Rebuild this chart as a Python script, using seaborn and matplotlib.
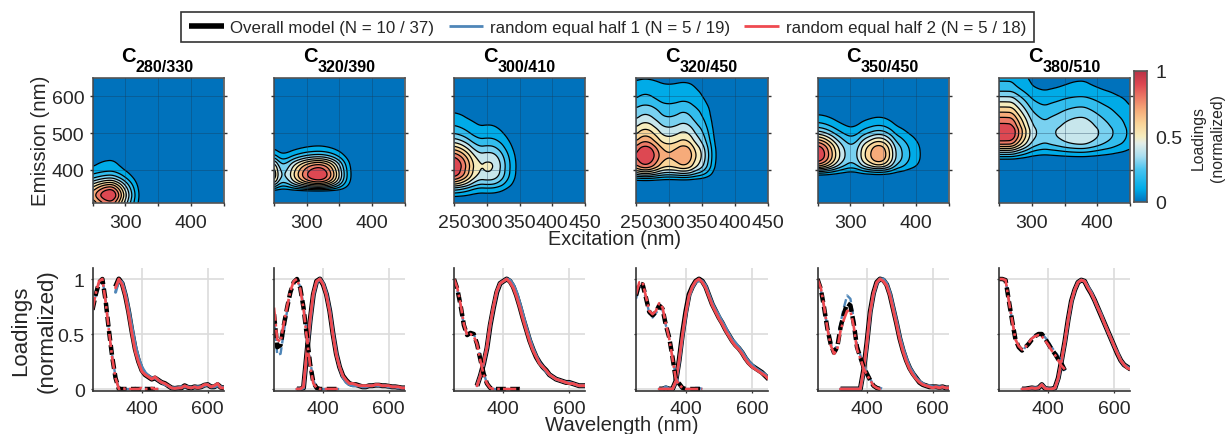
import numpy as np
import pandas as pd
import matplotlib
matplotlib.use("Agg")
import matplotlib.pyplot as plt
from matplotlib.colors import LinearSegmentedColormap
from matplotlib.lines import Line2D
import seaborn as sns

sns.set_theme(style="white")
plt.rcParams['font.family'] = ['Liberation Sans', 'DejaVu Sans']

W, H = 1228, 435

titles = ["280/330", "320/390", "300/410", "320/450", "350/450", "380/510"]
ex_wl = list(range(250, 451, 10))
em_wl = list(range(320, 651, 10))
em_at_310 = [.84, 0, 0, 0, 0, 0]

# ---- excitation loadings (overall / half 1 / half 2) ----
ex1_all = [.72,.86,.97,1.0,.80,.53,.29,.10,0,0,0,0,0,0,0,0,0,0,0,0,0]
ex1_h1  = [.73,.85,.96,1.0,.81,.54,.30,.11,.01,0,0,0,0,.01,0,0,.01,0,0,0,0]
ex1_h2  = [.72,.87,.98,1.0,.79,.53,.28,.10,0,.01,0,0,0,0,0,.01,0,0,.01,0,0]
ex2_all = [.68,.38,.40,.58,.74,.88,.97,1.0,.92,.74,.49,.23,.06,.01,0,0,0,0,0,0,0]
ex2_h1  = [.62,.31,.32,.52,.71,.87,.97,1.0,.93,.76,.52,.26,.08,.01,0,0,0,0,0,0,0]
ex2_h2  = [.74,.45,.43,.60,.75,.89,.98,1.0,.91,.73,.47,.21,.05,.01,0,0,0,0,0,0,0]
ex3_all = [1.0,.91,.76,.58,.49,.51,.50,.41,.27,.14,.05,.01,0,0,0,0,0,0,0,0,0]
ex3_h1  = [1.0,.90,.75,.58,.49,.51,.50,.43,.29,.15,.05,.01,0,0,0,0,0,0,0,0,.01]
ex3_h2  = [1.0,.92,.77,.59,.49,.50,.48,.41,.26,.13,.05,.01,0,0,0,0,0,0,0,0,0]
ex4_all = [.85,.96,.95,.83,.70,.67,.70,.76,.73,.58,.47,.29,.09,.05,.01,0,0,0,0,0,0]
ex4_h1  = [.82,.93,.93,.82,.69,.65,.69,.73,.72,.58,.47,.29,.11,.05,.01,0,0,0,.01,.01,0]
ex4_h2  = [.86,.97,.97,.84,.71,.68,.71,.78,.74,.59,.46,.28,.09,.04,.01,0,0,0,0,0,0]
ex5_all = [1.0,.91,.74,.55,.41,.33,.38,.56,.68,.78,.76,.60,.38,.29,.20,.14,.08,.03,.01,0,0]
ex5_h1  = [1.0,.90,.74,.56,.42,.34,.40,.60,.74,.85,.82,.64,.41,.31,.21,.15,.09,.04,.01,.01,0]
ex5_h2  = [1.0,.92,.75,.55,.40,.32,.36,.53,.63,.71,.71,.57,.36,.28,.19,.13,.08,.03,.01,0,0]
ex6_all = [1.0,1.0,.99,.80,.62,.45,.38,.35,.38,.41,.45,.48,.50,.50,.46,.41,.36,.32,.27,.23,.17]
ex6_h1  = [1.0,1.0,.99,.81,.62,.46,.38,.34,.38,.41,.46,.49,.50,.50,.47,.43,.38,.34,.30,.25,.16]
ex6_h2  = [1.0,1.0,.99,.80,.62,.45,.39,.36,.38,.42,.46,.48,.49,.48,.44,.40,.35,.31,.26,.21,.18]

# ---- emission loadings (overall / half 1 / half 2) ----
em1_all = [.93,1.0,.96,.85,.70,.52,.36,.25,.17,.13,.11,.09,.10,.08,.06,.05,.03,.01,.005,.01,.01,.03,.015,.01,.02,.015,.02,.035,.04,.02,.02,.04,.015,.01]
em1_h1  = [.88,.99,.97,.87,.73,.56,.40,.28,.20,.15,.12,.10,.10,.08,.06,.04,.03,.01,.01,.01,.02,.02,.02,.01,.02,.02,.02,.03,.04,.02,.02,.03,.02,.01]
em1_h2  = [.92,1.0,.95,.84,.68,.50,.34,.24,.16,.13,.11,.09,.11,.08,.06,.05,.03,.01,.005,.01,.01,.03,.015,.01,.02,.01,.02,.04,.04,.02,.03,.05,.01,.01]
em2_all = [0,0,.01,.32,.62,.86,.98,1.0,.95,.86,.71,.50,.32,.20,.12,.08,.05,.04,.04,.03,.02,.02,.03,.03,.035,.035,.03,.03,.025,.02,.02,.015,.01,.01]
em2_h1  = [0,0,.01,.30,.60,.85,.97,1.0,.96,.87,.72,.51,.33,.20,.11,.06,.04,.03,.03,.03,.02,.02,.03,.03,.035,.03,.03,.03,.02,.02,.02,.01,.01,.01]
em2_h2  = [0,0,.02,.33,.63,.87,.98,1.0,.95,.85,.70,.49,.31,.20,.12,.08,.05,.05,.04,.03,.03,.03,.03,.03,.04,.04,.03,.03,.03,.02,.02,.02,.01,.01]
em3_all = [.03,.12,.23,.37,.58,.74,.88,.96,.98,1.0,.98,.93,.85,.75,.64,.54,.44,.36,.29,.24,.20,.17,.13,.11,.09,.08,.07,.06,.06,.05,.04,.03,.03,.03]
em3_h1  = [.03,.12,.23,.37,.58,.74,.88,.96,.98,1.0,.99,.95,.88,.78,.67,.56,.46,.37,.30,.24,.20,.16,.13,.11,.09,.08,.07,.06,.06,.05,.04,.03,.03,.03]
em3_h2  = [.03,.12,.24,.38,.59,.75,.89,.96,.98,1.0,.97,.92,.84,.74,.63,.53,.43,.35,.29,.23,.20,.17,.13,.11,.09,.08,.07,.06,.05,.05,.04,.03,.03,.03]
em4_all = [0,0,.01,0,0,.07,.26,.50,.70,.86,.93,.98,1.0,.98,.93,.85,.77,.71,.65,.60,.54,.49,.44,.40,.37,.33,.28,.24,.21,.19,.17,.15,.12,.09]
em4_h1  = [0,0,.02,0,0,.06,.24,.47,.67,.84,.92,.97,.99,.98,.94,.86,.78,.72,.67,.61,.56,.50,.45,.42,.38,.34,.29,.25,.22,.19,.17,.15,.13,.09]
em4_h2  = [0,0,0,0,0,.07,.26,.49,.69,.85,.93,.98,1.0,.97,.92,.84,.76,.70,.64,.59,.53,.48,.43,.39,.36,.32,.27,.23,.20,.18,.16,.14,.12,.09]
em5_all = [0,0,0,0,0,0,0,.17,.42,.70,.87,.97,1.0,.99,.95,.86,.73,.60,.46,.35,.26,.19,.14,.10,.06,.04,.03,.02,.02,.02,.015,.02,.01,.01]
em5_h1  = [0,0,0,0,0,0,0,.15,.40,.68,.86,.96,1.0,1.0,.96,.88,.75,.62,.48,.37,.28,.20,.15,.10,.07,.05,.03,.03,.02,.02,.02,.02,.01,.01]
em5_h2  = [0,0,0,0,0,0,0,.17,.42,.70,.87,.97,1.0,.98,.94,.85,.72,.59,.45,.34,.25,.18,.13,.09,.06,.04,.03,.02,.01,.02,.01,.02,.01,.01]
em6_all = [0,0,.005,.01,.005,.01,.04,.005,0,0,.01,.10,.26,.43,.63,.80,.90,.97,.99,.98,.92,.87,.81,.74,.67,.60,.53,.46,.39,.32,.26,.22,.20,.18]
em6_h1  = [0,0,.005,.01,.01,.01,.04,.01,0,0,.01,.09,.25,.42,.62,.79,.90,.97,.99,.98,.93,.88,.81,.74,.68,.60,.53,.46,.39,.33,.26,.22,.20,.18]
em6_h2  = [0,0,.005,.01,.005,.01,.04,.005,0,0,.01,.10,.26,.43,.63,.80,.90,.97,.99,.98,.92,.87,.81,.74,.67,.60,.53,.46,.39,.32,.26,.22,.19,.18]

ex_sets = [(ex1_all, ex1_h1, ex1_h2), (ex2_all, ex2_h1, ex2_h2), (ex3_all, ex3_h1, ex3_h2),
           (ex4_all, ex4_h1, ex4_h2), (ex5_all, ex5_h1, ex5_h2), (ex6_all, ex6_h1, ex6_h2)]
em_sets = [(em1_all, em1_h1, em1_h2), (em2_all, em2_h1, em2_h2), (em3_all, em3_h1, em3_h2),
           (em4_all, em4_h1, em4_h2), (em5_all, em5_h1, em5_h2), (em6_all, em6_h1, em6_h2)]

series_names = ["Overall model (N = 10 / 37)", "random equal half 1 (N = 5 / 19)", "random equal half 2 (N = 5 / 18)"]
levels = [0, .1, .2, .3, .4, .5, .6, .7, .8, .9, 1.01]

cmap = LinearSegmentedColormap.from_list("eem", [
    (0.00, (0/255, 114/255, 188/255)),
    (0.10, (0/255, 172/255, 232/255)),
    (0.25, (75/255, 197/255, 240/255)),
    (0.35, (170/255, 222/255, 240/255)),
    (0.45, (228/255, 238/255, 232/255)),
    (0.50, (246/255, 236/255, 190/255)),
    (0.60, (250/255, 212/255, 152/255)),
    (0.70, (246/255, 172/255, 122/255)),
    (0.80, (236/255, 122/255, 102/255)),
    (0.90, (222/255, 72/255, 82/255)),
    (1.00, (186/255, 50/255, 70/255)),
])

fig = plt.figure(figsize=(W/100, H/100), dpi=100, facecolor="white")


def px_axes(l, t, r, b):
    return fig.add_axes([l/W, 1-b/H, (r-l)/W, (b-t)/H])


def smooth(wl, vals, grid):
    v = np.interp(grid, wl, vals)
    k = np.ones(5)/5
    pad = np.r_[np.full(2, v[0]), v, np.full(2, v[-1])]
    return np.convolve(pad, k, mode="valid")


lefts = [92.5, 274, 454, 636, 817.5, 999]
rights = [223.5, 404.5, 585, 768, 948.5, 1130]
ink = "#262626"
blue = "#4f86b8"
red = "#ef4a50"
gex = np.arange(250, 451, 2)
gem = np.arange(310, 651, 2)

for i in range(6):
    # ---------- top row: EEM from the read loadings ----------
    ax = px_axes(lefts[i], 79, rights[i], 204)
    em_full = [em_at_310[i]] + list(em_sets[i][0])
    Z = np.outer(smooth([310] + em_wl, em_full, gem), smooth(ex_wl, ex_sets[i][0], gex))
    Z = Z/Z.max()
    ax.contourf(gex, gem, Z, levels=levels, colors=[cmap(l) for l in levels[:-1]], antialiased=True)
    ax.contour(gex, gem, Z, levels=levels[1:-1], colors="black", linewidths=0.9)
    ax.set_xlim(250, 450)
    ax.set_ylim(310, 650)
    ax.set_xticks([250, 300, 350, 400, 450])
    ax.set_yticks([400, 500, 600])
    if i in (2, 3):
        ax.set_xticklabels(["250", "300", "350", "400", "450"])
    else:
        ax.set_xticklabels(["", "300", "", "400", ""])
    ax.grid(True, color="#1a3a55", alpha=0.35, lw=0.7)
    ax.set_axisbelow(False)
    ax.tick_params(axis="both", which="both", length=2, width=1, color="#333333",
                   labelsize=14, labelcolor=ink, pad=6, left=True, right=True, bottom=True, top=False)
    ax.tick_params(axis="y", labelleft=(i == 0), pad=4)
    for s in ax.spines.values():
        s.set_visible(True)
        s.set_color("#555555")
        s.set_linewidth(1.2)
    cx = (lefts[i] + rights[i]) / 2
    fig.text((cx-22)/W, 1-62/H, "C", ha="right", va="baseline", fontsize=14.5, fontweight="bold", color="black")
    fig.text((cx-22)/W, 1-72/H, titles[i], ha="left", va="baseline", fontsize=11.6, fontweight="bold", color="black")

    # ---------- bottom row: spectra ----------
    ax2 = px_axes(lefts[i], 269, rights[i], 392)
    exd = pd.DataFrame({"wl": ex_wl, "overall": ex_sets[i][0], "h1": ex_sets[i][1], "h2": ex_sets[i][2]})
    emd = pd.DataFrame({"wl": em_wl, "overall": em_sets[i][0], "h1": em_sets[i][1], "h2": em_sets[i][2]})
    sns.lineplot(data=emd, x="wl", y="overall", ax=ax2, color="black", linewidth=3.6, errorbar=None, legend=False, solid_capstyle="butt")
    sns.lineplot(data=emd, x="wl", y="h1", ax=ax2, color=blue, linewidth=2.2, errorbar=None, legend=False)
    sns.lineplot(data=emd, x="wl", y="h2", ax=ax2, color=red, linewidth=2.1, errorbar=None, legend=False)
    sns.lineplot(data=exd, x="wl", y="h1", ax=ax2, color=blue, linewidth=1.7, errorbar=None, legend=False, linestyle=(0, (3.5, 1.6)))
    sns.lineplot(data=exd, x="wl", y="overall", ax=ax2, color="black", linewidth=3.2, errorbar=None, legend=False, linestyle=(0, (2.2, 1.0)))
    sns.lineplot(data=exd, x="wl", y="h2", ax=ax2, color=red, linewidth=1.9, errorbar=None, legend=False, linestyle=(0, (5.0, 1.2, 1.0, 1.2)))
    ax2.set_xlim(250, 648)
    ax2.set_ylim(-0.018, 1.1)
    ax2.set_xticks([400, 600])
    ax2.set_yticks([0, 0.5, 1])
    ax2.set_yticklabels(["0", "0.5", "1"])
    ax2.set_xlabel("")
    ax2.set_ylabel("")
    ax2.grid(True, color="#dcdcdc", lw=1.2)
    ax2.set_axisbelow(True)
    ax2.tick_params(axis="both", length=1.5, width=0.9, color="#333333", labelsize=14, labelcolor=ink, pad=5,
                    left=True, bottom=True)
    ax2.tick_params(axis="y", labelleft=(i == 0), pad=4)
    ax2.spines["top"].set_visible(False)
    ax2.spines["right"].set_visible(False)
    for n in ("left", "bottom"):
        ax2.spines[n].set_color("#333333")
        ax2.spines[n].set_linewidth(1.2)

# ---------- colour bar ----------
cax = px_axes(1134, 72, 1147, 203)
grad = np.linspace(0, 1, 256).reshape(-1, 1)
cax.imshow(grad, cmap=cmap, aspect="auto", origin="lower", extent=[0, 1, 0, 1], vmin=0, vmax=1)
cax.set_xticks([])
cax.yaxis.tick_right()
cax.set_yticks([0.0, 0.5, 1.0])
cax.set_yticklabels(["0", "0.5", "1"])
cax.tick_params(axis="y", length=0, labelsize=14, labelcolor=ink, pad=6, right=True)
for s in cax.spines.values():
    s.set_visible(True)
    s.set_color("#555555")
    s.set_linewidth(1.2)

# ---------- shared texts ----------
fig.text(1208/W, 1-138/H, "Loadings\n(normalized)", rotation=90, ha="center", va="center", ma="center",
         fontsize=11.3, color=ink, linespacing=1.4)
fig.text(41/W, 1-141/H, "Emission (nm)", rotation=90, ha="center", va="center", fontsize=14.7, color=ink)
fig.text(615/W, 1-240/H, "Excitation (nm)", ha="center", va="center", fontsize=14.3, color=ink)
fig.text(622/W, 1-426/H, "Wavelength (nm)", ha="center", va="center", fontsize=14.6, color=ink)
fig.text(34/W, 1-331/H, "Loadings\n(normalized)", rotation=90, ha="center", va="center", ma="center",
         fontsize=16, color=ink, linespacing=1.32)

# ---------- legend ----------
handles = [Line2D([], [], color="black", lw=4, solid_capstyle="butt"),
           Line2D([], [], color=blue, lw=2, solid_capstyle="butt"),
           Line2D([], [], color=red, lw=2, solid_capstyle="butt")]
leg = fig.legend(handles, series_names, ncol=3, loc="center", bbox_to_anchor=(607.5/W, 1-28/H),
                 fontsize=12.2, frameon=True, fancybox=False, framealpha=1, edgecolor="#333333",
                 handlelength=2.05, handletextpad=0.38, columnspacing=0.85, borderpad=0.45, labelcolor=ink)
leg.get_frame().set_linewidth(1.2)

fig.savefig("out.png", dpi=100)
